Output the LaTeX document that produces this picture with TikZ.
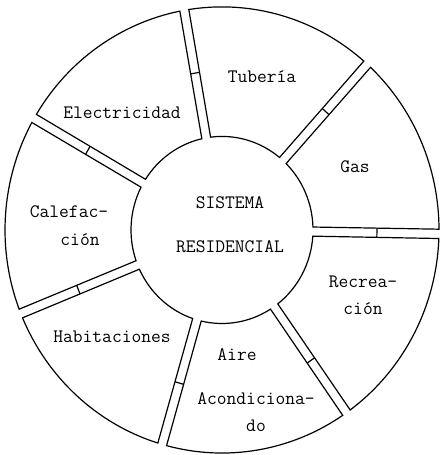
\documentclass[tikz,border=0pt]{standalone}
\begin{document}
\begin{tikzpicture}[x=1pt, y=1.028pt, line width=1.2pt,
  lbl/.style={font=\ttfamily\fontsize{19}{27}\selectfont, align=center, inner sep=1pt}]
\useasboundingbox (-222,-218.9) rectangle (218,223.7);
\def\Ro{217}
\def\Ri{91}
% sectors between the double spokes
\foreach \a/\b in {-1/48, 48/100, 100/150, 150/202, 202/254, 254/305, 305/359}
  \draw (\a+1.2:\Ro) arc[start angle=\a+1.2, end angle=\b-1.2, radius=\Ro]
     -- (\b-2.8:\Ri) arc[start angle=\b-2.8, end angle=\a+2.8, radius=\Ri] -- cycle;
% rungs across the spokes
\foreach \s in {-1, 48, 100, 150, 202, 254, 305}
  \draw (\s+1.7:155) -- (\s-1.7:155);
\node[lbl] (centro) at (8,5) {SISTEMA\\[17pt]RESIDENCIAL};
\node[lbl] (tub) at (40,148.8) {Tubería};
\node[lbl] (ele) at (-100,113.8) {Electricidad};
\node[lbl] (gas) at (133,61.3) {Gas};
\node[lbl] (cal) at (-153,17.5) {Calefac-};
\node[lbl] (cion) at (-142,-9.7) {ción};
\node[lbl] (rec) at (141,-63.2) {Recrea-\\ción};
\node[lbl] (hab) at (-110,-104.1) {Habitaciones};
\node[lbl] (aire) at (15,-121.6) {Aire};
\node[lbl] (aco) at (34,-177.5) {Acondiciona-\\do};
\end{tikzpicture}
\end{document}
